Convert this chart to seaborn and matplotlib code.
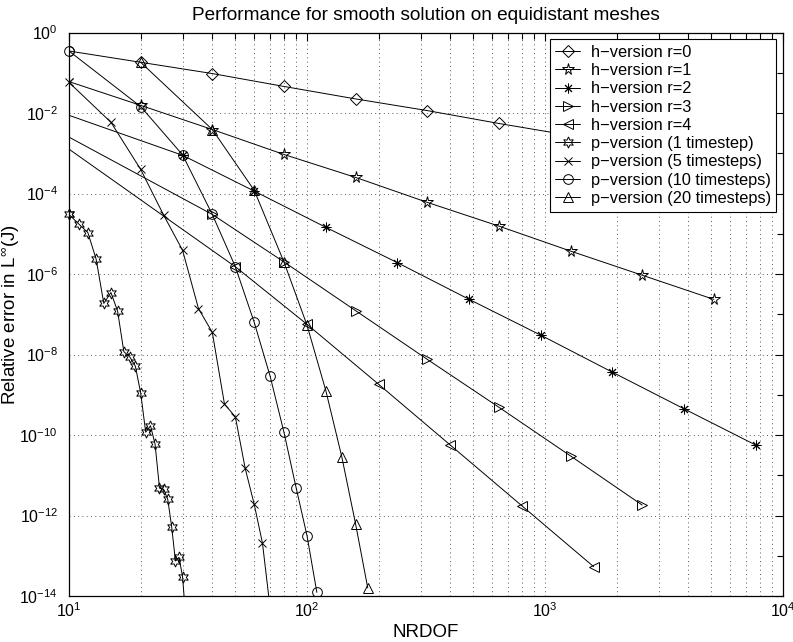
import numpy as np
import pandas as pd
import matplotlib
matplotlib.use("Agg")
import matplotlib.pyplot as plt
from matplotlib import ticker
import seaborn as sns

# ---------------- data (log10 of relative error) ----------------
labels = ["h\u2212version r=0", "h\u2212version r=1", "h\u2212version r=2",
          "h\u2212version r=3", "h\u2212version r=4",
          "p\u2212version (1 timestep)", "p\u2212version (5 timesteps)",
          "p\u2212version (10 timesteps)", "p\u2212version (20 timesteps)"]

r0_x = [1, 20, 40, 80, 160, 320, 640, 1280, 2560, 5120]
r0_e = [0.47, -0.74, -1.02, -1.34, -1.65, -1.94, -2.26, -2.56, -2.86, -3.16]

r1_x = [2, 20, 40, 80, 160, 320, 640, 1280, 2560, 5120]
r1_e = [0.15, -1.81, -2.41, -3.03, -3.60, -4.22, -4.81, -5.43, -6.03, -6.63]

r2_x = [3, 30, 60, 120, 240, 480, 960, 1920, 3840, 7680]
r2_e = [-0.97, -3.05, -3.94, -4.84, -5.72, -6.63, -7.52, -8.44, -9.35, -10.25]

r3_x = [4, 40, 80, 160, 320, 640, 1280, 2560]
r3_e = [-1.33, -4.52, -5.70, -6.91, -8.12, -9.31, -10.52, -11.74]

r4_x = [5, 50, 100, 200, 400, 800, 1600]
r4_e = [-1.64, -5.82, -7.25, -8.74, -10.25, -11.76, -13.27]

p1_x = [10, 11, 12, 13, 14, 15, 16, 17, 18, 19, 20, 21, 22, 23, 24, 25, 26,
        27, 28, 29, 30, 31]
p1_e = [-4.52, -4.76, -4.97, -5.63, -6.73, -6.46, -6.92, -7.93, -8.06, -8.29,
        -8.95, -9.93, -9.77, -10.23, -11.32, -11.35, -11.60, -12.28, -13.13,
        -13.04, -13.52, -14.6]

p5_x = [10, 15, 20, 25, 30, 35, 40, 45, 50, 55, 60, 65, 70]
p5_e = [-1.24, -2.23, -3.40, -4.54, -5.41, -6.86, -7.45, -9.23, -9.55, -10.83,
        -11.72, -12.69, -14.3]

p10_x = [10, 20, 30, 40, 50, 60, 70, 80, 90, 100, 110]
p10_e = [-0.46, -1.84, -3.04, -4.52, -5.82, -7.20, -8.54, -9.93, -11.31,
         -12.50, -13.91]

p20_x = [20, 40, 60, 80, 100, 120, 140, 160, 180]
p20_e = [-0.74, -2.41, -3.92, -5.70, -7.27, -8.9, -10.54, -12.21, -13.80]

series_x = [r0_x, r1_x, r2_x, r3_x, r4_x, p1_x, p5_x, p10_x, p20_x]
series_e = [r0_e, r1_e, r2_e, r3_e, r4_e, p1_e, p5_e, p10_e, p20_e]

x_limits = (10, 1e4)
y_limits = (1e-14, 1)

# ---------------- style ----------------
sns.set_style("white")
plt.rcParams.update({
    "font.family": ["Liberation Sans", "DejaVu Sans"],
    "mathtext.fontset": "custom",
    "mathtext.rm": "Liberation Sans",
    "mathtext.it": "Liberation Sans:italic",
    "mathtext.bf": "Liberation Sans:bold",
    "font.size": 11,
    "axes.edgecolor": "black",
    "axes.linewidth": 0.9,
    "lines.scale_dashes": False,
    "xtick.color": "black",
    "ytick.color": "black",
    "text.color": "black",
    "axes.labelcolor": "black",
})

markers = ["D", "*", (8, 2, 0), ">", "<", (6, 1, 0), "x", "o", "^"]
msizes = [5.8, 8.5, 7.0, 7.0, 7.0, 8.0, 6.0, 7.0, 7.5]

fig = plt.figure(figsize=(7.93, 6.42), dpi=100)
ax = fig.add_axes([69 / 793, 1 - 596 / 642, (783 - 69) / 793, (596 - 32.5) / 642])
ax.set_xscale("log")
ax.set_yscale("log")

for xs, es, lab, mk, ms in zip(series_x, series_e, labels, markers, msizes):
    df = pd.DataFrame({"NRDOF": xs, "err": np.power(10.0, es)})
    sns.lineplot(data=df, x="NRDOF", y="err", ax=ax, color="k", linewidth=0.7,
                 marker=mk, markersize=ms, markerfacecolor="none",
                 markeredgecolor="k", markeredgewidth=0.7, label=lab,
                 estimator=None, sort=False, legend=False)
    edge = df[np.isclose(df["NRDOF"], x_limits[0])]
    if len(edge):
        sns.lineplot(data=edge, x="NRDOF", y="err", ax=ax, color="k",
                     linestyle="none", marker=mk, markersize=ms,
                     markerfacecolor="none", markeredgecolor="k",
                     markeredgewidth=0.7, estimator=None, legend=False,
                     clip_on=False, zorder=5)

ax.set_xlim(*x_limits)
ax.set_ylim(*y_limits)

ax.xaxis.set_major_locator(ticker.LogLocator(base=10, numticks=10))
ax.xaxis.set_minor_locator(ticker.LogLocator(base=10, subs=np.arange(2, 10), numticks=20))
ax.xaxis.set_minor_formatter(ticker.NullFormatter())
ax.xaxis.set_major_formatter(ticker.LogFormatterSciNotation())

y_major = [10.0 ** k for k in range(0, -15, -2)]
y_minor = [10.0 ** k for k in range(-1, -15, -2)]
ax.yaxis.set_major_locator(ticker.FixedLocator(y_major))
ax.yaxis.set_minor_locator(ticker.FixedLocator(y_minor))
ax.yaxis.set_major_formatter(ticker.LogFormatterSciNotation())
ax.yaxis.set_minor_formatter(ticker.NullFormatter())

ax.tick_params(which="both", direction="in", top=True, right=True,
               width=0.8, labelsize=11.5)
ax.tick_params(which="major", length=6)
ax.tick_params(which="minor", length=4)
ax.tick_params(axis="x", which="major", pad=4)
ax.tick_params(axis="y", which="major", pad=8)

grid_kw = dict(color="0.35", linewidth=0.7, linestyle=(0, (0.7, 2.4)))
ax.grid(True, which="major", axis="both", **grid_kw)
ax.grid(True, which="minor", axis="x", **grid_kw)
ax.set_axisbelow(True)
for s in ax.spines.values():
    s.set_visible(True)
    s.set_color("black")

ax.set_title("Performance for smooth solution on equidistant meshes",
             fontsize=13.7, pad=9)
ax.set_xlabel("NRDOF", fontsize=13.5, labelpad=3)
ax.set_ylabel("Relative error in L$^{\\infty}$(J)", fontsize=13.5)
ax.yaxis.label.set_verticalalignment("center")
ax.yaxis.set_label_coords(-59 / 714, 0.5)

handles, labs = ax.get_legend_handles_labels()
leg = ax.legend(handles, labs, loc="upper right", fontsize=11.8,
                frameon=True, fancybox=False, framealpha=1, edgecolor="black",
                borderaxespad=0.4, handlelength=1.5, handletextpad=0.65,
                labelspacing=0.2, borderpad=0.35)
leg.get_frame().set_linewidth(0.8)

fig.savefig("out.png", dpi=100)
